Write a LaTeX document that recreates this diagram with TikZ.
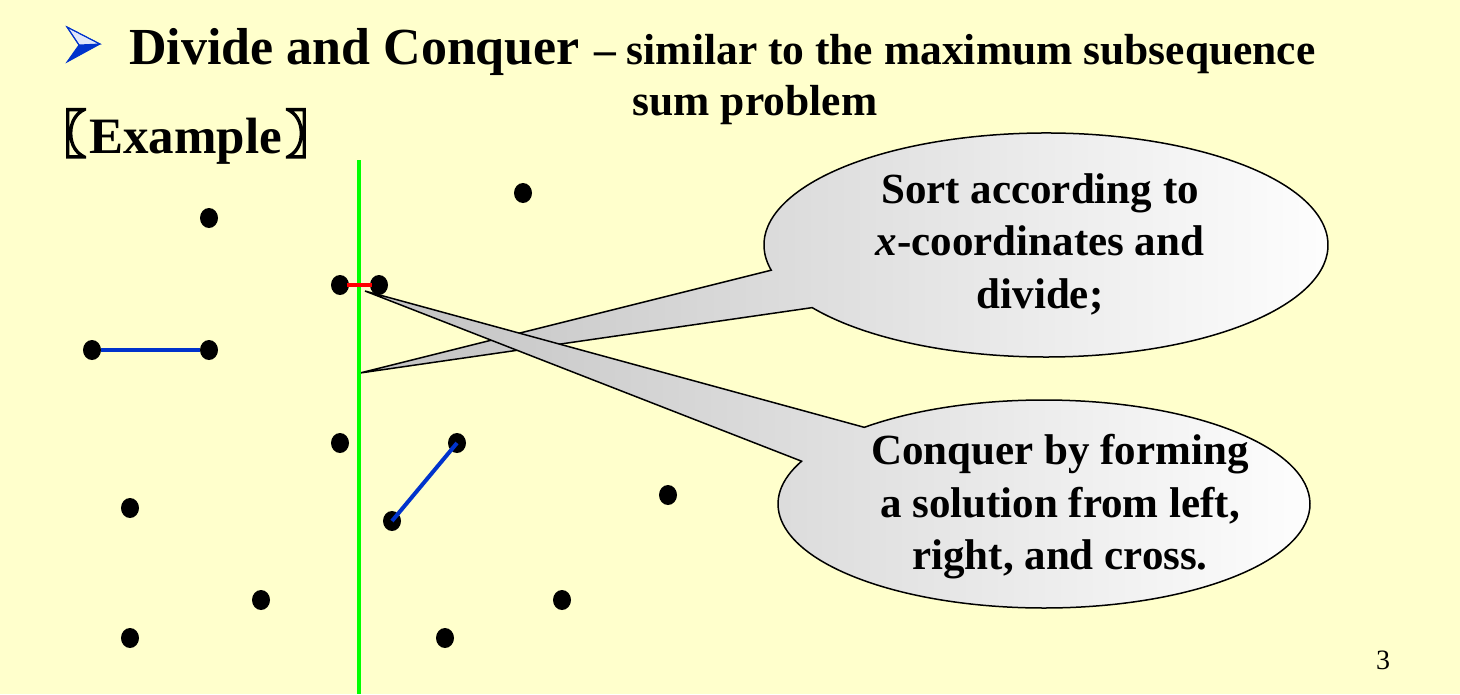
\documentclass[tikz,border=0pt]{standalone}
\usepackage{fontspec}
\setmainfont{Liberation Serif}
\newfontfamily\cjk[FakeBold=4]{Noto Sans CJK SC}
\usetikzlibrary{calc,shapes.geometric}
\definecolor{bg}{RGB}{255,255,204}
\definecolor{segblue}{RGB}{0,51,204}
\definecolor{divgreen}{RGB}{0,255,0}
\definecolor{crossred}{RGB}{255,0,0}
\begin{document}
\begin{tikzpicture}[x=1pt,y=-1pt,
  pt/.style={ellipse,fill=black,minimum width=18pt,minimum height=20pt,inner sep=0pt},
  callout/.style={draw=black,line width=1.5pt,left color=black!24,right color=white},
  calltext/.style={align=center,font=\bfseries\fontsize{43}{52.5}\selectfont,inner sep=0pt},
  seg/.style={segblue,line width=4pt}
]
\useasboundingbox[fill=bg] (0,0) rectangle (1460,694);

% title
\fill[segblue] (79,45) -- (100,44) -- (67,62) -- cycle;
\draw[segblue,fill=segblue!12,line width=1pt,line join=miter] (67,27) -- (100,44) -- (79,45) -- cycle;
\draw[segblue,line width=1pt] (67,27) -- (100,44) -- (67,62) -- (79,45) -- cycle;
\node[anchor=base west,inner sep=0pt,font=\bfseries\fontsize{52}{60}\selectfont] (t1) at (129,64) {Divide and Conquer};
\node[anchor=base west,inner sep=0pt,font=\bfseries\fontsize{43.5}{52}\selectfont] (t2) at (594,64) {– similar to the maximum subsequence};
\node[anchor=base,inner sep=0pt,font=\bfseries\fontsize{43.5}{52}\selectfont] (t3) at (755,115) {sum problem};
\node[anchor=base west,inner sep=0pt,font=\bfseries\fontsize{51}{60}\selectfont] (ex) at (89,153) {Example};
\node[anchor=base east,inner sep=0pt,font=\fontsize{52}{60}\selectfont] (lb) at ([xshift=-2pt]ex.base west) {\cjk 〖};
\node[anchor=base west,inner sep=0pt,font=\fontsize{52}{60}\selectfont] (rb) at ([xshift=3pt]ex.base east) {\cjk 〗};
\node[anchor=base,inner sep=0pt,font=\fontsize{28}{32}\selectfont] (pg) at (1383,669) {3};

% callouts
\coordinate (c1) at (1046,245);
\coordinate (tip1) at (360,373);
\coordinate (c2) at (1044,504);
\coordinate (tip2) at (365,291);
\path[callout] (tip1) -- ($(c1)+(167:282 and 112)$) arc[start angle=167,end angle=506,x radius=282,y radius=112] -- cycle;
\path[callout] (tip2) -- ($(c2)+(227.5:266 and 104)$) arc[start angle=227.5,end angle=564.3,x radius=266,y radius=104] -- cycle;
\node[calltext] (s1) at (1040,244) {Sort according to\\\textit{x}-coordinates and\\divide;};
\node[calltext] (s2) at (1060,507) {Conquer by forming\\a solution from left,\\right, and cross.};

% dividing line
\coordinate (gtop) at (359,160);
\coordinate (gbot) at (359,694);
\draw[divgreen,line width=3.5pt] (gtop) -- (gbot);

% points
\node[pt] (p1) at (209,218) {};
\node[pt] (p2) at (523,193) {};
\node[pt] (p3) at (340,285) {};
\node[pt] (p4) at (379,285) {};
\node[pt] (p5) at (92,350) {};
\node[pt] (p6) at (209,350) {};
\node[pt] (p7) at (340,443) {};
\node[pt] (p8) at (457,443) {};
\node[pt] (p9) at (130,508) {};
\node[pt] (p10) at (392,521) {};
\node[pt] (p11) at (668,495) {};
\node[pt] (p12) at (261,600) {};
\node[pt] (p13) at (562,600) {};
\node[pt] (p14) at (130,638) {};
\node[pt] (p15) at (445,638) {};

% closest pairs
\draw[crossred,line width=3.5pt] ([xshift=-2pt]p3.east) -- ([xshift=2pt]p4.west);
\draw[seg] (p5.east) -- (p6.west);
\draw[seg] (p10.center) -- (p8.center);
\end{tikzpicture}
\end{document}
